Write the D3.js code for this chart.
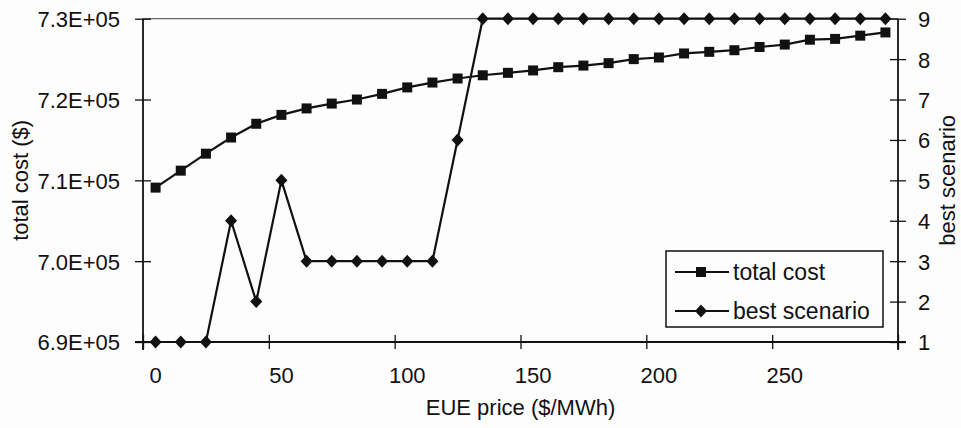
<!DOCTYPE html>
<html>
<head>
<meta charset="utf-8">
<script src="https://cdn.jsdelivr.net/npm/d3@7"></script>
<style>
  html, body { margin: 0; padding: 0; background: #fdfdfd; }
  svg text { font-family: "Liberation Sans", Arial, sans-serif; fill: #111; }
</style>
</head>
<body>
<svg id="chart" width="961" height="428"></svg>
<script>
// EUE price categories ($/MWh)
const prices = [0, 10, 20, 30, 40, 50, 60, 70, 80, 90, 100, 110, 120, 130, 140,
                150, 160, 170, 180, 190, 200, 210, 220, 230, 240, 250, 260, 270, 280, 290];

// total cost ($)
const totalCost = [709100, 711200, 713300, 715300, 717000, 718100, 718900, 719500, 720000, 720700,
                   721500, 722100, 722600, 723000, 723300, 723600, 724000, 724200, 724500, 725000,
                   725200, 725700, 725900, 726100, 726500, 726800, 727400, 727500, 727900, 728300];

// best scenario index
const bestScenario = [1, 1, 1, 4, 2, 5, 3, 3, 3, 3, 3, 3, 6, 9, 9,
                      9, 9, 9, 9, 9, 9, 9, 9, 9, 9, 9, 9, 9, 9, 9];

const costTicks = [690000, 700000, 710000, 720000, 730000];
const scenarioTicks = [1, 2, 3, 4, 5, 6, 7, 8, 9];
const priceLabels = [0, 50, 100, 150, 200, 250];

const plot = { left: 143, right: 898, top: 18.7, bottom: 342 };
const fontSize = 22;

const svg = d3.select('#chart');

const x = d3.scaleBand().domain(prices).range([plot.left, plot.right]).padding(0);
const xc = d => x(d) + x.bandwidth() / 2;
// boundaries between categories, used for tick marks
const xb = d3.scaleLinear().domain([0, prices.length]).range([plot.left, plot.right]);

const yL = d3.scaleLinear().domain([690000, 730000]).range([plot.bottom, plot.top]);
const yR = d3.scaleLinear().domain([1, 9]).range([plot.bottom, plot.top]);

// plot area top border
svg.append('line')
    .attr('x1', plot.left).attr('x2', plot.right)
    .attr('y1', plot.top).attr('y2', plot.top)
    .attr('stroke', '#444').attr('stroke-width', 1);

// left axis
const left = svg.append('g').attr('transform', `translate(${plot.left},0)`)
    .call(d3.axisLeft(yL).tickValues(costTicks)
        .tickFormat(d => (d / 1e5).toFixed(1) + 'E+05')
        .tickSize(8).tickPadding(23));
left.select('.domain').remove();
left.selectAll('.tick line').attr('x2', -8).attr('x1', 8).attr('stroke', '#111').attr('stroke-width', 1.3);
left.selectAll('.tick text').attr('font-size', fontSize).attr('x', -23).attr('dy', '0.36em');
left.append('line').attr('y1', plot.top).attr('y2', plot.bottom + 8)
    .attr('stroke', '#111').attr('stroke-width', 1.8);

// right axis
const right = svg.append('g').attr('transform', `translate(${plot.right},0)`)
    .call(d3.axisRight(yR).tickValues(scenarioTicks).tickSize(8).tickPadding(20));
right.select('.domain').remove();
right.selectAll('.tick line').attr('x1', -8).attr('x2', 8).attr('stroke', '#111').attr('stroke-width', 1.3);
right.selectAll('.tick text').attr('font-size', fontSize).attr('x', 20).attr('dy', '0.36em');
right.append('line').attr('y1', plot.top).attr('y2', plot.bottom + 8)
    .attr('stroke', '#111').attr('stroke-width', 1.8);

// bottom axis: tick marks at category boundaries, labels at category centres
const bottomTicks = svg.append('g').attr('transform', `translate(0,${plot.bottom})`)
    .call(d3.axisBottom(xb).tickValues([0, 5, 10, 15, 20, 25, 30]).tickFormat('').tickSize(7));
bottomTicks.select('.domain').remove();
bottomTicks.selectAll('.tick line').attr('y1', -7).attr('y2', 7).attr('stroke', '#111').attr('stroke-width', 1.3);

const bottomLabels = svg.append('g').attr('transform', `translate(0,${plot.bottom})`)
    .call(d3.axisBottom(x).tickValues(priceLabels).tickSize(0).tickPadding(25));
bottomLabels.select('.domain').remove();
bottomLabels.selectAll('.tick text').attr('font-size', fontSize);

svg.append('line')
    .attr('x1', plot.left - 8).attr('x2', plot.right + 8)
    .attr('y1', plot.bottom).attr('y2', plot.bottom)
    .attr('stroke', '#111').attr('stroke-width', 1.8);

// axis titles
svg.append('text')
    .attr('x', (plot.left + plot.right) / 2).attr('y', 415)
    .attr('text-anchor', 'middle').attr('font-size', fontSize)
    .text('EUE price ($/MWh)');

svg.append('text')
    .attr('transform', `translate(28,${(plot.top + plot.bottom) / 2}) rotate(-90)`)
    .attr('text-anchor', 'middle').attr('font-size', fontSize)
    .text('total cost ($)');

svg.append('text')
    .attr('transform', `translate(955,${(plot.top + plot.bottom) / 2}) rotate(-90)`)
    .attr('text-anchor', 'middle').attr('font-size', fontSize)
    .text('best scenario');

// series
const diamond = 'M0,-6.5L6,0L0,6.5L-6,0Z';
const square = 'M-5,-5H5V5H-5Z';

const costLine = d3.line().x((d, i) => xc(prices[i])).y(d => yL(d));
const scenLine = d3.line().x((d, i) => xc(prices[i])).y(d => yR(d));

svg.append('path').datum(bestScenario)
    .attr('d', scenLine).attr('fill', 'none').attr('stroke', '#111').attr('stroke-width', 2.2);
svg.append('g').selectAll('path').data(bestScenario).join('path')
    .attr('d', diamond)
    .attr('transform', (d, i) => `translate(${xc(prices[i])},${yR(d)})`)
    .attr('fill', '#111');

svg.append('path').datum(totalCost)
    .attr('d', costLine).attr('fill', 'none').attr('stroke', '#111').attr('stroke-width', 2.2);
svg.append('g').selectAll('path').data(totalCost).join('path')
    .attr('d', square)
    .attr('transform', (d, i) => `translate(${xc(prices[i])},${yL(d)})`)
    .attr('fill', '#111');

// legend
const legend = svg.append('g');
legend.append('rect')
    .attr('x', 666).attr('y', 251).attr('width', 217).attr('height', 76)
    .attr('fill', '#fdfdfd').attr('stroke', '#111').attr('stroke-width', 1.5);

const legendItems = [
    { name: 'total cost', shape: square, y: 272 },
    { name: 'best scenario', shape: diamond, y: 311 }
];
const item = legend.selectAll('g.item').data(legendItems).join('g')
    .attr('class', 'item')
    .attr('transform', d => `translate(0,${d.y})`);
item.append('line').attr('x1', 675).attr('x2', 729)
    .attr('stroke', '#111').attr('stroke-width', 2.2);
item.append('path').attr('d', d => d.shape)
    .attr('transform', 'translate(701,0)').attr('fill', '#111');
item.append('text').attr('x', 733).attr('dy', '0.36em')
    .attr('font-size', 23)
    .text(d => d.name);
</script>
</body>
</html>
